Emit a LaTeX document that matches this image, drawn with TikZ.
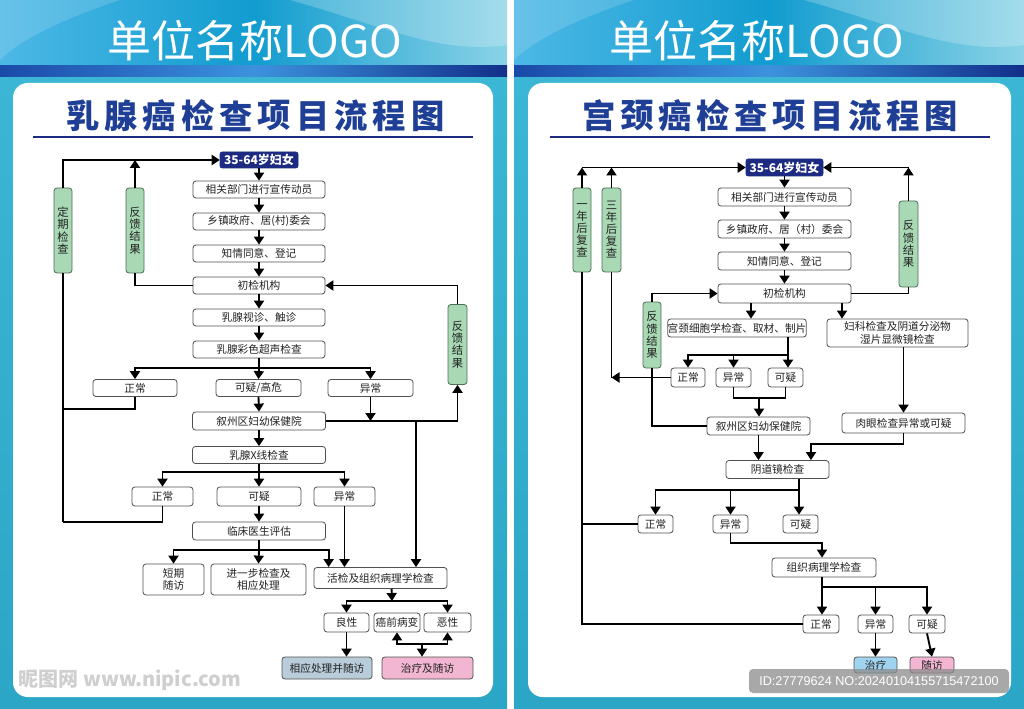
\documentclass[tikz,border=0pt]{standalone}
\usepackage{fontspec}
\newfontfamily\cjk{Noto Sans CJK SC}
\newfontfamily\idfont{Liberation Sans}
\usetikzlibrary{arrows.meta,calc}
\definecolor{navy}{HTML}{1C2A82}
\definecolor{ttl}{HTML}{1F3F96}
\definecolor{bline}{HTML}{505050}
\definecolor{btxt}{HTML}{222222}
\definecolor{gfill}{HTML}{A8D8B4}
\definecolor{gline}{HTML}{4E6E58}
\definecolor{bluefill}{HTML}{B8CCD9}
\definecolor{pinkfill}{HTML}{F2B6D2}
\definecolor{skyfill}{HTML}{9FD3EF}
\definecolor{topA}{HTML}{4DB8E6}
\definecolor{topB}{HTML}{119CCF}
\definecolor{topC}{HTML}{8AD3E6}
\definecolor{strA}{HTML}{1A4AA8}
\definecolor{strB}{HTML}{3C92DE}
\definecolor{strC}{HTML}{122F8A}
\definecolor{tealA}{HTML}{3BB6D4}
\definecolor{tealB}{HTML}{2BA6C6}
\definecolor{wm}{HTML}{CFCFCF}
\begin{document}
\begin{tikzpicture}[x=0.75pt,y=-0.75pt]
\tikzset{
  bx/.style={draw=bline, fill=white, rounded corners=2.2pt, line width=0.6pt, inner sep=0pt, text=btxt, align=center, font=\cjk\fontsize{8}{10}\selectfont},
  sz/.style 2 args={minimum width=#1*0.75pt, minimum height=#2*0.75pt},
  gbox/.style={draw=gline, fill=gfill, rounded corners=2.2pt, line width=0.6pt, inner sep=0pt, text=btxt, align=center, font=\cjk\fontsize{8.5}{9.2}\selectfont},
  topbox/.style={draw=navy, fill=navy, rounded corners=1.5pt, inner sep=0pt, text=white, font=\cjk\bfseries\fontsize{9}{10}\selectfont},
  ar/.style={line width=1.4pt, -{Triangle[length=6pt,width=7.5pt]}},
  ln/.style={line width=1.4pt},
  logo/.style={text=white, font=\cjk\fontsize{33}{36}\selectfont},
  ttlchar/.style={text=ttl, font=\cjk\bfseries\fontsize{25}{26}\selectfont},
}
\useasboundingbox (0,0) rectangle (1024,709);
\fill[white] (0,0) rectangle (1024,709);
% ===== backgrounds =====
\foreach \xa/\xb in {0/507,514/1024}{
  \shade[left color=topA, right color=topC, middle color=topB] (\xa,0) rectangle (\xb,66);
  \fill[white,opacity=0.22] ($(\xa,0)+(290,0)$) .. controls ($(\xa,0)+(380,25)$) and ($(\xa,0)+(440,55)$) .. (\xb,45) -- (\xb,0) -- cycle;
  \fill[white,opacity=0.15] (\xa,0) -- ($(\xa,0)+(120,0)$) .. controls ($(\xa,0)+(60,20)$) and ($(\xa,0)+(20,40)$) .. (\xa,60) -- cycle;
  \shade[left color=strA, right color=strC, middle color=strB] (\xa,66) rectangle (\xb,78);
  \shade[top color=tealA, bottom color=tealB] (\xa,78) rectangle (\xb,709);
}
\fill[white, rounded corners=11pt] (13,83) rectangle (493,697);
\fill[white, rounded corners=11pt] (528,83) rectangle (1011,697);
% ===== titles =====
\node[logo] (logoL) at (255,41) {单位名称LOGO};
\node[logo] (logoR) at (757,41) {单位名称LOGO};
\foreach \c [count=\i from 0] in {乳,腺,癌,检,查,项,目,流,程,图}{
  \node[ttlchar] (tl\i) at ({83+38.3*\i},116) {\c};
}
\foreach \c [count=\i from 0] in {宫,颈,癌,检,查,项,目,流,程,图}{
  \node[ttlchar] (tr\i) at ({599.5+38*\i},116) {\c};
}
\draw[line width=1.5pt, navy] (33,137) -- (473,137);
\draw[line width=1.5pt, navy] (550,137) -- (990,137);

% ===== LEFT FLOWCHART =====
\node[topbox, sz={78}{16}] (L0) at (259,160) {35-64岁妇女};
\node[bx, sz={132}{17}] (L1) at (259,189.5) {相关部门进行宣传动员};
\node[bx, sz={132}{17}] (L2) at (259,221.5) {乡镇政府、居(村)委会};
\node[bx, sz={132}{17}] (L3) at (259,253.5) {知情同意、登记};
\node[bx, sz={132}{17}] (L4) at (259,285.5) {初检机构};
\node[bx, sz={132}{17}] (L5) at (259,317.5) {乳腺视诊、触诊};
\node[bx, sz={132}{17}] (L6) at (259,349.5) {乳腺彩色超声检查};
\node[bx, sz={84}{17}] (L7a) at (135,388) {正常};
\node[bx, sz={85}{17}] (L7b) at (258.5,388) {可疑/高危};
\node[bx, sz={85}{17}] (L7c) at (370.5,388) {异常};
\node[bx, sz={133}{18}] (L8) at (259,421) {叙州区妇幼保健院};
\node[bx, sz={133}{17}] (L9) at (259,455) {乳腺X线检查};
\node[bx, sz={61}{19}] (L10a) at (162.5,496.5) {正常};
\node[bx, sz={84}{19}] (L10b) at (259,496.5) {可疑};
\node[bx, sz={61}{19}] (L10c) at (344.5,496.5) {异常};
\node[bx, sz={133}{18}] (L11) at (259,531) {临床医生评估};
\node[bx, sz={61}{31}, font=\cjk\fontsize{8}{9.5}\selectfont] (L12a) at (173.5,579.5) {短期\\随访};
\node[bx, sz={95}{31}, font=\cjk\fontsize{8}{9.5}\selectfont] (L12b) at (258.5,579.5) {进一步检查及\\相应处理};
\node[bx, sz={133}{21}] (L12c) at (380.5,578) {活检及组织病理学检查};
\node[bx, sz={45}{19}] (L13a) at (346.5,622.5) {良性};
\node[bx, sz={46}{19}] (L13b) at (397,622.5) {癌前病变};
\node[bx, sz={47}{19}] (L13c) at (447.5,622.5) {恶性};
\node[bx, sz={90}{22}, fill=bluefill] (L14a) at (327,668) {相应处理并随访};
\node[bx, sz={91}{22}, fill=pinkfill] (L14b) at (427.5,668) {治疗及随访};
\node[gbox, sz={18}{85}] (G1) at (63,230.5) {定\\期\\检\\查};
\node[gbox, sz={18}{85}] (G2) at (135,230.5) {反\\馈\\结\\果};
\node[gbox, sz={19}{80}] (G3) at (457.5,344.5) {反\\馈\\结\\果};

\coordinate (b1) at (259,368);
\coordinate (b2) at (259,472);
\coordinate (b3) at (259,550);
\coordinate (b4) at (392,601);
\coordinate (b5) at (422,644);
\coordinate (v1) at (416,421);
\coordinate (j1) at (63,409);
\coordinate (j2) at (63,522);

\foreach \a/\b in {L0/L1,L1/L2,L2/L3,L3/L4,L4/L5,L5/L6,L7b/L8,L8/L9,L10b/L11}{
  \draw[ar] (\a.south) -- (\b.north);
}
\draw[ar] (L13a.south) -- (L13a.south |- L14a.north);
\draw[ln] (L6.south) -- (b1);
\draw[ar] (b1) -| (L7a.north);
\draw[ar] (b1) -| (L7c.north);
\draw[ar] (b1) -- (L7b.north);
\draw[ar] (L7c.south) -- (L7c.south |- L8.east);
\draw[ar] (L8.east) -| (G3.south);
\draw[ar] (G3.north) |- (L4.east);
\draw[ar] (v1) -- (v1 |- L12c.north);
\draw[ln] (L7a.south) |- (j1);
\draw[ln] (L10a.south) |- (j2);
\draw[ln] (j2) -- (G1.south);
\draw[ar] (G1.north) |- (L0.west);
\draw[ln] (L4.west) -| (G2.south);
\draw[ar] (G2.north) -- (G2.north |- L0.west);
\draw[ln] (L9.south) -- (b2);
\draw[ar] (b2) -| (L10a.north);
\draw[ar] (b2) -| (L10c.north);
\draw[ar] (b2) -- (L10b.north);
\draw[ar] (L10c.south) -- (L10c.south |- L12c.north);
\draw[ln] (L11.south) -- (b3);
\draw[ar] (b3) -| (L12a.north);
\draw[ar] (b3) -- (L12b.north);
\draw[ar] (b3) -| ($(L12c.north west)+(15,0)$);
\draw[ar] ($(L12c.south west)+(78,0)$) -- (b4);
\draw[ar] (b4) -| (L13a.north);
\draw[ar] (b4) -| (L13c.north);
\draw[ar] (b5) -| (L13b.south);
\draw[ar] (b5) -| (L13c.south);
\draw[ar] (b5) -- (b5 |- L14b.north);

% ===== RIGHT FLOWCHART =====
\node[topbox, sz={77}{17}] (R0) at (784.5,167.5) {35-64岁妇女};
\node[bx, sz={133}{18}] (R1) at (784.5,197) {相关部门进行宣传动员};
\node[bx, sz={133}{18}] (R2) at (784.5,229) {乡镇政府、居（村）委会};
\node[bx, sz={133}{18}] (R3) at (784.5,261) {知情同意、登记};
\node[bx, sz={133}{19}] (R4) at (784.5,293.5) {初检机构};
\node[bx, sz={132}{18}] (R5a) at (737,328) {宫颈细胞学检查、取材、制片};
\node[bx, sz={141}{28}, font=\cjk\fontsize{8}{9.5}\selectfont] (R5b) at (897.5,333) {妇科检查及阴道分泌物\\湿片显微镜检查};
\node[bx, sz={34}{19}] (R6a) at (688,377.5) {正常};
\node[bx, sz={35}{19}] (R6b) at (733.5,377.5) {异常};
\node[bx, sz={35}{19}] (R6c) at (785.5,377.5) {可疑};
\node[bx, sz={103}{18}] (R7) at (758.5,426) {叙州区妇幼保健院};
\node[bx, sz={123}{20}] (R8) at (903.5,423) {肉眼检查异常或可疑};
\node[bx, sz={103}{18}] (R9) at (777.5,469.5) {阴道镜检查};
\node[bx, sz={35}{18}] (R10a) at (655.5,524) {正常};
\node[bx, sz={35}{18}] (R10b) at (730.5,524) {异常};
\node[bx, sz={35}{18}] (R10c) at (800.5,524) {可疑};
\node[bx, sz={104}{19}] (R11) at (824,567.5) {组织病理学检查};
\node[bx, sz={36}{18}] (R12a) at (821,624) {正常};
\node[bx, sz={35}{18}] (R12b) at (875.5,624) {异常};
\node[bx, sz={36}{18}] (R12c) at (927,624) {可疑};
\node[bx, sz={43}{16}, fill=skyfill] (R13a) at (875.5,665) {治疗};
\node[bx, sz={44}{16}, fill=pinkfill] (R13b) at (932,665) {随访};
\node[gbox, sz={18}{84}, font=\cjk\fontsize{8.5}{9}\selectfont] (RG1) at (582,230) {一\\年\\后\\复\\查};
\node[gbox, sz={19}{84}, font=\cjk\fontsize{8.5}{9}\selectfont] (RG2) at (611.5,230) {三\\年\\后\\复\\查};
\node[gbox, sz={18}{66}] (RG3) at (652,335) {反\\馈\\结\\果};
\node[gbox, sz={19}{86}] (RG4) at (908.5,244) {反\\馈\\结\\果};

\coordinate (x751) at (751,0);
\coordinate (x842) at (842,0);
\coordinate (rb1) at (788,355);
\coordinate (rj) at (759,398);
\coordinate (rk) at (811,444);
\coordinate (rb2) at (799,490);
\coordinate (rm) at (822,543);
\coordinate (rb3) at (822,587);

\foreach \a/\b in {R0/R1,R1/R2,R2/R3,R3/R4,R12b/R13a,R12c/R13b}{
  \draw[ar] (\a.south) -- (\b.north);
}
\draw[ar] (RG1.north) -- (RG1.north |- R0.west);
\draw[ar] (RG2.north) -- (RG2.north |- R0.west);
\draw[ar] (RG1.north |- R0.west) -- (R0.west);
\draw[ln] (RG1.south) |- (R12a.west);
\draw[ln] (R10a.west) -- (R10a.west -| RG1.south);
\draw[ln] (RG2.south) -- (RG2.south |- R6a.west);
\draw[ar] (R6a.west) -- (R6a.west -| RG2.south);
\draw[ar] (RG3.north) |- (R4.west);
\draw[ln] (RG3.south) |- (R7.west);
\draw[ln] (R4.east) -| (RG4.south);
\draw[ar] (RG4.north) -- (RG4.north |- R0.east);
\draw[ar] (RG4.north |- R0.east) -- (R0.east);
\draw[ar] (R4.south -| x751) -- (R5a.north -| x751);
\draw[ar] (R4.south -| x842) -- (R5b.north -| x842);
\draw[ln] (R5a.south -| rb1) -- (rb1);
\draw[ar] (rb1) -- (R6c.north -| rb1);
\draw[ar] (rb1) -| (R6a.north);
\draw[ar] (rb1) -| (R6b.north);
\draw[ln] (R6b.south) |- (R6c.south |- rj) -- (R6c.south);
\draw[ar] (rj) -- (R7.north -| rj);
\draw[ar] (R7.south) -- (R7.south |- R9.north);
\draw[ar] (R5b.south -| R8.north) -- (R8.north);
\draw[ar] (R8.south) |- (rk) -- (rk |- R9.north);
\draw[ln] (R9.south -| rb2) -- (rb2);
\draw[ar] (rb2) -- (rb2 |- R10c.north);
\draw[ar] (rb2) -| (R10a.north);
\draw[ar] (rb2) -| (R10b.north);
\draw[ar] (R10b.south) |- (rm) -- (rm |- R11.north);
\draw[ln] (R11.south -| rb3) -- (rb3);
\draw[ar] (rb3) -- (R12a.north -| rb3);
\draw[ar] (rb3) -| (R12b.north);
\draw[ar] (rb3) -| (R12c.north);

% ===== watermarks =====
\node[font=\cjk\bfseries\fontsize{15}{16}\selectfont, text=wm] (wmk) at (130,680) {昵图网 www.nipic.com};
\fill[black!45, opacity=0.75, rounded corners=3pt] (749,669) rectangle (1009,693);
\node[font=\idfont\fontsize{9.5}{10}\selectfont, text=white] (idt) at (879,681) {ID:27779624 NO:20240104155715472100};
\end{tikzpicture}
\end{document}
